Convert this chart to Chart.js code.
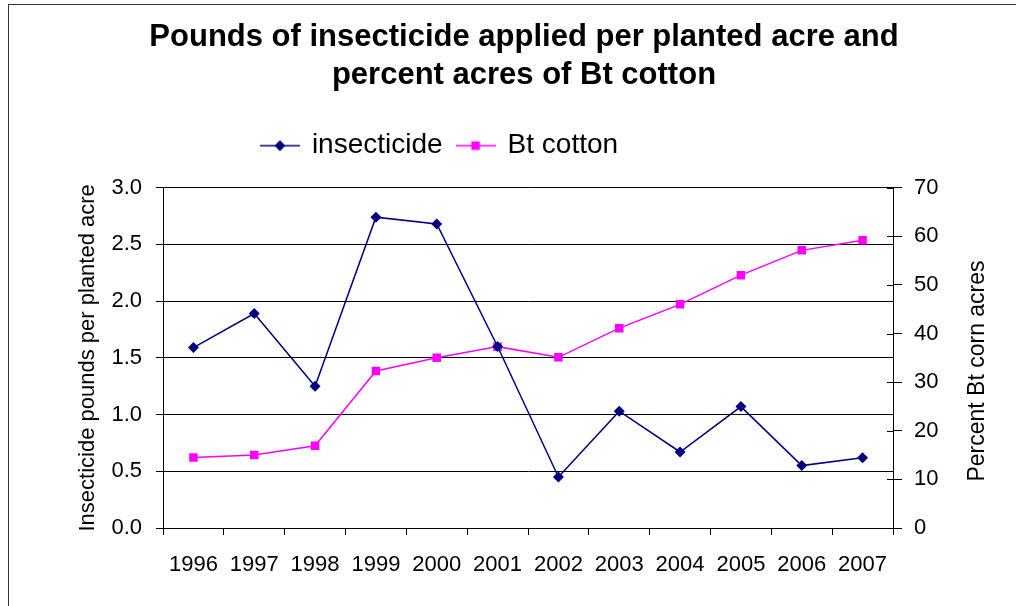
<!DOCTYPE html>
<html>
<head>
<meta charset="utf-8">
<script src="https://cdn.jsdelivr.net/npm/chart.js@4.4.1/dist/chart.umd.min.js"></script>
<style>
    html, body { margin: 0; padding: 0; background: #fff; overflow: hidden; }
    #frame { position: absolute; left: 8px; top: 4px; width: 1100px; height: 700px; border-left: 1px solid #333; border-top: 1px solid #333; }
    #wrap { position: absolute; left: 0; top: 0; width: 1016px; height: 606px; }
</style>
</head>
<body>
<div id="frame"></div>
<div id="wrap"><canvas id="chart"></canvas></div>
<script>
// Dữ liệu
const years = ['1996', '1997', '1998', '1999', '2000', '2001', '2002', '2003', '2004', '2005', '2006', '2007'];
const insecticide = [1.59, 1.89, 1.25, 2.74, 2.68, 1.60, 0.45, 1.03, 0.67, 1.07, 0.55, 0.62];
const btCotton = [14.5, 15.0, 16.9, 32.3, 35.0, 37.3, 35.1, 41.1, 46.0, 52.0, 57.1, 59.2];
const leftTicks = [0, 0.5, 1.0, 1.5, 2.0, 2.5, 3.0];
const rightTicks = [0, 10, 20, 30, 40, 50, 60, 70];

const FONT = '"Liberation Sans", Arial, sans-serif';
const NAVY = '#000080';
const PINK = '#FF00FF';

// Ký hiệu legend: đường kẻ + marker
function legendIcon(color, shape) {
    const c = document.createElement('canvas');
    c.width = 40; c.height = 14;
    const g = c.getContext('2d');
    g.strokeStyle = color;
    g.lineWidth = 1.5;
    g.beginPath(); g.moveTo(0, 7); g.lineTo(40, 7); g.stroke();
    g.fillStyle = color;
    g.beginPath();
    if (shape === 'diamond') {
        g.moveTo(20, 1.5); g.lineTo(25.5, 7); g.lineTo(20, 12.5); g.lineTo(14.5, 7);
    } else {
        g.rect(15.7, 2.7, 8.6, 8.6);
    }
    g.closePath(); g.fill();
    return c;
}
const icons = [legendIcon(NAVY, 'diamond'), legendIcon(PINK, 'square')];

// Tiêu đề trục phải (đọc từ dưới lên) + vạch chia cắt qua trục phải
const rightTitle = {
    id: 'rightTitle',
    afterDraw(chart) {
        const ctx = chart.ctx;
        const s = chart.scales.y1;
        ctx.save();
        ctx.strokeStyle = '#000';
        ctx.lineWidth = 1;
        rightTicks.forEach(v => {
            const y = Math.round(s.getPixelForValue(v)) + 0.5;
            ctx.beginPath(); ctx.moveTo(s.left - 6, y); ctx.lineTo(s.left, y); ctx.stroke();
        });
        ctx.translate(978, 371);
        ctx.rotate(-Math.PI / 2);
        ctx.font = '23px ' + FONT;
        ctx.fillStyle = '#000';
        ctx.textAlign = 'center';
        ctx.textBaseline = 'middle';
        ctx.fillText('Percent Bt corn acres', 0, 0);
        ctx.restore();
    }
};

// Legend: thêm khoảng trống phía dưới và dời sang trái như hình gốc
const legendShift = {
    id: 'legendShift',
    beforeLayout(chart) {
        const lg = chart.legend;
        if (lg && !lg._extra) {
            const fit = lg.fit;
            lg.fit = function () { fit.call(this); this.height += 18; };
            lg._extra = true;
        }
    },
    afterLayout(chart) {
        chart.legend.left -= 84;
        chart.legend.right -= 84;
    }
};

new Chart(document.getElementById('chart'), {
    type: 'line',
    data: {
        labels: years,
        datasets: [{
            label: 'insecticide',
            data: insecticide,
            yAxisID: 'y',
            borderColor: NAVY,
            backgroundColor: NAVY,
            borderWidth: 1.5,
            pointStyle: 'rectRot',
            pointRadius: 5.5,
            pointBorderWidth: 0,
            tension: 0
        }, {
            label: 'Bt cotton',
            data: btCotton,
            yAxisID: 'y1',
            borderColor: PINK,
            backgroundColor: PINK,
            borderWidth: 1.5,
            pointStyle: 'rect',
            pointRadius: 6,
            pointBorderWidth: 0,
            tension: 0
        }]
    },
    options: {
        responsive: true,
        maintainAspectRatio: false,
        animation: false,
        layout: { padding: { left: 32, right: 0, top: 0, bottom: 0 } },
        plugins: {
            title: {
                display: true,
                text: ['Pounds of insecticide applied per planted acre and', 'percent acres of Bt cotton'],
                color: '#000',
                font: { family: FONT, size: 31, weight: 'bold', lineHeight: 1.22 },
                padding: { top: 19, bottom: 22 }
            },
            legend: {
                position: 'top',
                labels: {
                    color: '#000',
                    font: { family: FONT, size: 28 },
                    usePointStyle: true,
                    pointStyleWidth: 36,
                    padding: 15,
                    generateLabels(chart) {
                        const items = Chart.defaults.plugins.legend.labels.generateLabels(chart);
                        items.forEach((it, i) => { it.pointStyle = icons[i]; });
                        return items;
                    }
                }
            },
            tooltip: { enabled: false }
        },
        scales: {
            x: {
                offset: true,
                afterFit(s) { s.height = 78; },
                grid: { offset: true, drawOnChartArea: false, tickLength: 7, color: '#000' },
                border: { color: '#000' },
                ticks: { color: '#000', font: { family: FONT, size: 22 }, padding: 17, maxRotation: 0, autoSkip: false }
            },
            y: {
                position: 'left',
                min: 0,
                max: 3,
                afterFit(s) { s.width = 131; },
                afterBuildTicks(s) { s.ticks = leftTicks.map(v => ({ value: v })); },
                grid: { color: '#000', tickLength: 7 },
                border: { color: '#000' },
                ticks: { color: '#000', font: { family: FONT, size: 22 }, padding: 14, callback: v => v.toFixed(1) },
                title: {
                    display: true,
                    text: 'Insecticide pounds per planted acre',
                    color: '#000',
                    font: { family: FONT, size: 22 },
                    padding: { top: 43, bottom: 0 }
                }
            },
            y1: {
                position: 'right',
                min: 0,
                max: 70,
                afterFit(s) { s.width = 123; },
                afterBuildTicks(s) { s.ticks = rightTicks.map(v => ({ value: v })); },
                grid: { drawOnChartArea: false, color: '#000', tickLength: 9 },
                border: { color: '#000' },
                ticks: { color: '#000', font: { family: FONT, size: 22 }, padding: 12 }
            }
        }
    },
    plugins: [rightTitle, legendShift]
});
</script>
</body>
</html>
